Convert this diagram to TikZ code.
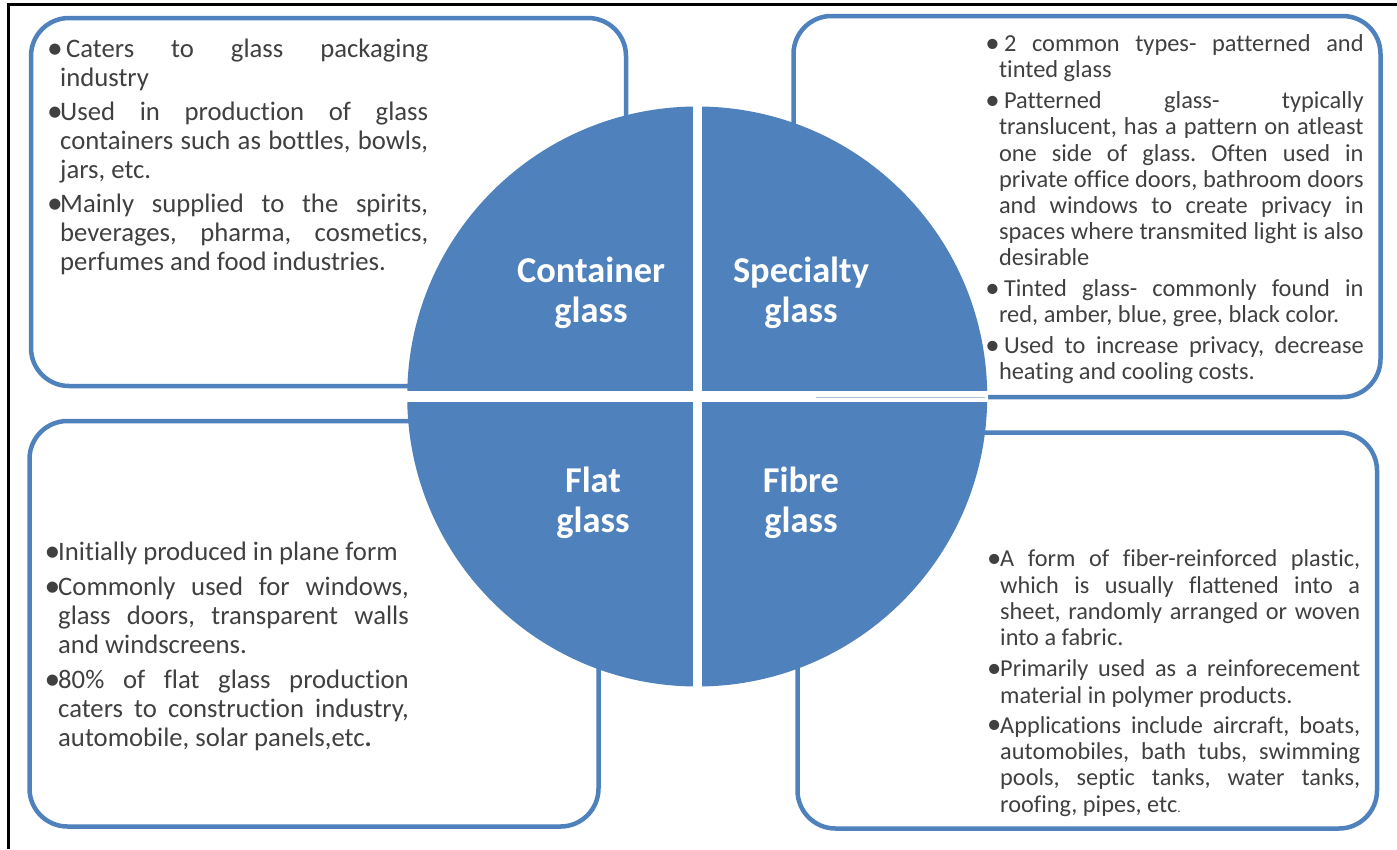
\documentclass[tikz,border=0pt]{standalone}
\usepackage{fontspec}
\usepackage{graphicx}
\setmainfont{Carlito}[Ligatures=NoCommon]
\definecolor{gblue}{HTML}{4F81BD}
\definecolor{tgray}{HTML}{404040}
\definecolor{lblue}{HTML}{A9C2E0}
\newlength\hg
\newcommand\bul{\makebox[0pt][l]{\hspace{-2.2pt}\raisebox{-0.04em}{\scalebox{1.18}{\textbullet}}}}
\newcommand\js{\frenchspacing\spaceskip=.23em plus 1fil minus .12em\relax}
\newcommand\bfirst[2][0pt]{\hbox to\hsize{\makebox[\hg][l]{\bul}\hspace{#1}\js #2}}
\newcommand\bonly[2][0pt]{\hbox{\makebox[\hg][l]{\bul}\hspace{#1}#2}}
\newcommand\bcont[1]{\hbox to\hsize{\hspace{\hg}\js #1}}
\newcommand\blast[1]{\hbox{\hspace{\hg}#1}}
\newcommand\blk[5]{\vtop{\hsize=#1pt \hg=#2pt \lineskiplimit=-100pt \fontsize{#3}{#4}\selectfont #5}}
\newcommand\lab[2]{\vtop{\fontsize{36.4}{40}\selectfont\bfseries\lineskiplimit=-100pt \hbox to 0pt{\hss #1\hss}\hbox to 0pt{\hss #2\hss}}}
\tikzset{
  boxline/.style={draw=gblue, line width=4.5pt, fill=white, rounded corners=38pt},
  txt/.style={anchor=base west, inner sep=0pt, text=tgray},
  lbl/.style={anchor=base, inner sep=0pt, text=white}
}
\begin{document}
\begin{tikzpicture}[x=1pt,y=-1pt]
\useasboundingbox (0,0) rectangle (1397,849);
% frame
\draw[line width=3.5pt] (8.5,849) -- (8.5,4.5) -- (1397,4.5);
% boxes
\path[boxline] (31,18) rectangle (626,386);
\path[boxline] (793.5,16) rectangle (1380.5,397);
\path[boxline] (29.5,421) rectangle (598.5,826.5);
\path[boxline] (797.5,432.5) rectangle (1377,828.5);
% circle
\coordinate (c) at (697.2,396.5);
\fill[gblue] (c) circle (290);
\begin{scope}
  \clip (c) circle (291);
  \fill[white] (692.7,100) rectangle (701.7,700);
  \fill[white] (400,391) rectangle (995,402);
\end{scope}
\coordinate (la) at (816,397);
\coordinate (lb) at (985,397);
\draw[lblue, line width=1pt] (la) -- (lb);
% labels
\node[lbl] (cg) at (591,282) {\lab{Container}{glass}};
\node[lbl] (sg) at (801,282) {\lab{Specialty}{glass}};
\node[lbl] (fg) at (593,492) {\lab{Flat}{glass}};
\node[lbl] (fb) at (801,492) {\lab{Fibre}{glass}};
% texts
\node[txt] (tl) at (49,57.3) {\blk{379}{11}{26.7}{29.3}{%
\bfirst[6pt]{Caters to glass packaging}
\blast{industry}
\vskip4.2pt
\bfirst{Used in production of glass}
\bcont{containers such as bottles, bowls,}
\blast{jars, etc.}
\vskip4.2pt
\bfirst{Mainly supplied to the spirits,}
\bcont{beverages, pharma, cosmetics,}
\blast{perfumes and food industries.}}};
\node[txt] (tr) at (987.4,51.7) {\blk{376}{11.4}{24.4}{26.2}{%
\bfirst[5pt]{2 common types- patterned and}
\blast{tinted glass}
\vskip4.6pt
\bfirst[5pt]{Patterned glass- typically}
\bcont{translucent, has a pattern on atleast}
\bcont{one side of glass. Often used in}
\bcont{private office doors, bathroom doors}
\bcont{and windows to create privacy in}
\bcont{spaces where transmited light is also}
\blast{desirable}
\vskip4.6pt
\bfirst[5pt]{Tinted glass- commonly found in}
\blast{red, amber, blue, gree, black color.}
\vskip4pt
\bfirst[5pt]{Used to increase privacy, decrease}
\blast{heating and cooling costs.}}};
\node[txt] (bl) at (46.6,560.7) {\blk{362}{11.4}{26.7}{28.8}{%
\bonly{Initially produced in plane form}
\vskip6.4pt
\bfirst{Commonly used for windows,}
\bcont{glass doors, transparent walls}
\blast{and windscreens.}
\vskip6.4pt
\bfirst{80\% of flat glass production}
\bcont{caters to construction industry,}
\blast{automobile, solar panels,etc\textbf{.}}}};
\node[txt] (br) at (989,566.7) {\blk{371}{11}{24.3}{26.4}{%
\bfirst{A form of fiber-reinforced plastic,}
\bcont{which is usually flattened into a}
\bcont{sheet, randomly arranged or woven}
\blast{into a fabric.}
\vskip4.3pt
\bfirst{Primarily used as a reinforecement}
\blast{material in polymer products.}
\vskip3.6pt
\bfirst{Applications include aircraft, boats,}
\bcont{automobiles, bath tubs, swimming}
\bcont{pools, septic tanks, water tanks,}
\blast{roofing, pipes, etc{\fontsize{13}{13}\selectfont.}}}};
\end{tikzpicture}
\end{document}
